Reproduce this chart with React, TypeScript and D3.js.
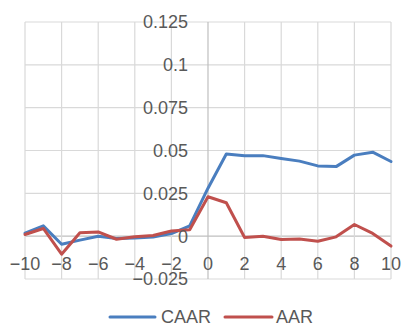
import React from "react";
import * as d3 from "d3";

const days = [-10, -9, -8, -7, -6, -5, -4, -3, -2, -1, 0, 1, 2, 3, 4, 5, 6, 7, 8, 9, 10];
const caar = [0.0017, 0.006, -0.0047, -0.0023, 0.0, -0.0014, -0.001, -0.0005, 0.0015, 0.006, 0.028, 0.048, 0.047, 0.047, 0.0453, 0.0438, 0.041, 0.0406, 0.0473, 0.049, 0.0436];
const aar = [0.001, 0.0045, -0.0105, 0.002, 0.0025, -0.0018, -0.0004, 0.0004, 0.003, 0.0037, 0.023, 0.0195, -0.0008, 0.0, -0.002, -0.0016, -0.003, -0.0004, 0.0068, 0.0016, -0.0058];
const yTicks = [-0.025, 0, 0.025, 0.05, 0.075, 0.1, 0.125];
const xTicks = [-10, -8, -6, -4, -2, 0, 2, 4, 6, 8, 10];
const seriesNames = ["CAAR", "AAR"];
const colors = ["#4A7EBF", "#C0504D"];

const W = 401, H = 324;
const left = 25, right = 391, top = 22, bottom = 279;

export default function App() {
  const x = d3.scaleLinear().domain([-10, 10]).range([left, right]);
  const y = d3.scaleLinear().domain([-0.025, 0.125]).range([bottom, top]);
  const line = d3.line<number>().x((_, i) => x(days[i])).y((d) => y(d));
  const fmtY = (v: number) => (v < 0 ? "\u2212" + String(-v) : String(v));
  const fmtX = (v: number) => (v < 0 ? "\u2212" + String(-v) : String(v));
  const font = "'Liberation Sans', Arial, sans-serif";
  const series = [caar, aar];
  const legendItems = [
    { x1: 110, x2: 155, tx: 161 },
    { x1: 225, x2: 272, tx: 276 },
  ];
  return (
    <svg width={W} height={H} style={{ position: "absolute", left: 0, top: 0, background: "#fff" }}>
      <g>
        {yTicks.map((t) => (
          <line key={"gy" + t} x1={left} x2={right} y1={y(t)} y2={y(t)} stroke={t === 0 ? "#BFBFBF" : "#D9D9D9"} strokeWidth={1.2} />
        ))}
        {xTicks.map((t) => (
          <line key={"gx" + t} x1={x(t)} x2={x(t)} y1={top} y2={bottom} stroke={t === 0 ? "#BFBFBF" : "#D9D9D9"} strokeWidth={1.2} />
        ))}
      </g>
      {series.map((s, i) => (
        <path key={seriesNames[i]} d={line(s) || ""} fill="none" stroke={colors[i]} strokeWidth={3} strokeLinejoin="round" strokeLinecap="round" />
      ))}
      <g fontFamily={font} fontSize={18} fill="#595959">
        {yTicks.map((t) => (
          <text key={"ly" + t} x={x(0) - 20} y={y(t)} dy="0.36em" textAnchor="end">
            {fmtY(t)}
          </text>
        ))}
        {xTicks.map((t) => (
          <text key={"lx" + t} x={x(t)} y={270} textAnchor="middle">
            {fmtX(t)}
          </text>
        ))}
        {legendItems.map((l, i) => (
          <g key={"lg" + i}>
            <line x1={l.x1} x2={l.x2} y1={317} y2={317} stroke={colors[i]} strokeWidth={3} strokeLinecap="round" />
            <text x={l.tx} y={317} dy="0.36em">{seriesNames[i]}</text>
          </g>
        ))}
      </g>
    </svg>
  );
}
